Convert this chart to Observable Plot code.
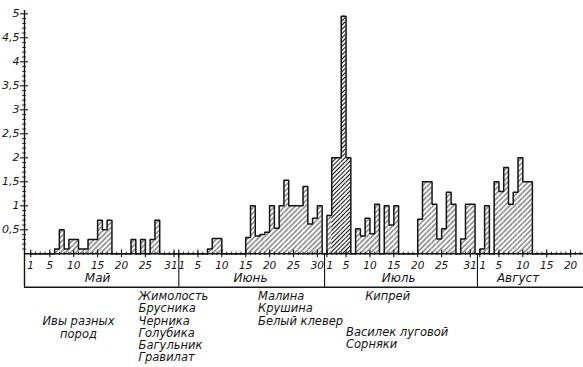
<!DOCTYPE html>
<html><head><meta charset="utf-8">
<script src="https://cdn.jsdelivr.net/npm/d3@7"></script>
<script src="https://cdn.jsdelivr.net/npm/@observablehq/plot@0.6"></script>
<style>
html,body{margin:0;padding:0;background:#fff;}
#chart{width:583px;height:367px;overflow:hidden;}
</style></head><body><div id="chart"></div>
<script>
// ---- data ----
const months = ["Май", "Июнь", "Июль", "Август"];
const may = [0,0,0,0,0, 0.1,0.5,0.1,0.3,0.3, 0.1,0.1,0.3,0.3,0.7, 0.5,0.7,0,0,0, 0,0.3,0,0.3,0, 0.3,0.7,0,0,0, 0];
const june = [0,0,0,0,0, 0,0.1,0.32,0.32,0, 0,0,0,0,0.34, 1.0,0.37,0.4,0.45,1.0, 0.53,1.0,1.53,1.0,1.0, 1.0,1.4,0.62,0.74,1.0];
const july = [0.8,2.0,2.0,4.95,2.0, 0,0.52,0.37,0.74,0.42, 1.03,0,1.0,0.6,1.0, 0,0,0,0,0.72, 1.5,1.5,1.03,0.31,0.52, 1.28,1.03,0,0.31,1.03, 1.03];
const august = [0.1,1.0,0,1.5,1.3, 1.8,1.03,1.28,2.0,1.5, 1.5,0,0,0,0, 0,0,0,0,0];
const monthDays = [31, 30, 31, 22];
const tickDays = [[1,5,10,15,20,25,31],[1,5,10,15,20,25,30],[1,5,10,15,20,25,31],[1,5,10,15,20]];
const monthLabelDay = [15, 16, 16, 9];
const yTicks = [0.5,1,1.5,2,2.5,3,3.5,4,4.5,5];
const yTickLabels = ["0,5","1","1,5","2","2,5","3","3,5","4","4,5","5"];
const plantTexts = ["Ивы разных\nпород", "Жимолость\nБрусника\nЧерника\nГолубика\nБагульник\nГравилат", "Малина\nКрушина\nБелый клевер", "Кипрей", "Василек луговой\nСорняки"];
const plantMonth = [0, 0, 1, 2, 2];
const plantDay = [11, 24, 18, 9, 5];
const darkMonth = 2, darkDays = [2,3,4,5];

// ---- layout ----
const series = [may, june, july, august];
const gaps = [0, 0, 1, 1];
const start = [];
{ let s = 0; for (let m = 0; m < 4; m++) { s += gaps[m]; start.push(s); s += (m < 3 ? [31,30,31][m] : 0); } }
const pos = (m, d) => start[m] + d - 1;
const x0 = -1.3, xEnd = 115.7;
const ink = "#141414";
const pxPerUnit = (253.3 - 13.3) / 5;
const boxDepth = -33.4 / pxPerUnit;

const bars = [];
series.forEach((arr, m) => arr.forEach((v, i) => {
  if (v > 0) bars.push({m, day: i + 1, x1: pos(m, i + 1), x2: pos(m, i + 1) + 1, v,
    dark: m === darkMonth && darkDays.includes(i + 1)});
}));
const lastIndex = pos(3, august.length);
const valAt = new Map(bars.map(b => [b.x1, b.v]));
const env = [];
for (let i = 0; i < lastIndex; i++) { const v = valAt.get(i) || 0; env.push({x: i, y: v}, {x: i + 1, y: v}); }

const dayTicks = [];
monthDays.forEach((n, m) => { for (let d = 1; d <= n; d++) dayTicks.push(pos(m, d)); });
const majorTicks = [];
tickDays.forEach((arr, m) => arr.forEach(d => majorTicks.push({x: pos(m, d), label: String(d),
  dx: (m > 0 && d === 1) ? 3 : (d === 31 && m === 0 ? -3 : 0)})));
const dividers = [start[1] - gaps[1] / 2, start[2] - gaps[2] / 2, start[3] - gaps[3] / 2];
const monthLabels = months.map((name, m) => ({x: pos(m, monthLabelDay[m]), name}));
const plantDy = [62.4, 37.4, 37.4, 37.4, 74.4];
const plantDx = [0, -2, -2, 0, 0];
const plantLH = [1.1, 1.07, 1.07, 1.07, 1.0];
const plants = plantTexts.map((t, k) => ({x: pos(plantMonth[k], plantDay[k]), t, dy: plantDy[k], dx: plantDx[k], lh: plantLH[k], anchor: k === 0 ? "middle" : "start"}));
const minorY = d3.range(1, 51).map(i => i / 10).filter(v => Math.abs(v * 2 - Math.round(v * 2)) > 1e-6);

const font = "DejaVu Sans";
const tickLabelMarks = [-3, 0, 3].map(dx => Plot.text(majorTicks.filter(t => t.dx === dx), {x: "x", y: 0, text: "label", dy: 11.5, dx, fontSize: 10.5, fontStyle: "italic", fontFamily: font, fill: ink}));
const plantMarks = plants.map(p => Plot.text([p], {x: "x", y: 0, text: "t", dy: p.dy, dx: p.dx, textAnchor: p.anchor, lineAnchor: "top", lineHeight: p.lh, fontSize: 11.5, fontStyle: "italic", fontFamily: font, fill: ink}));

const chart = Plot.plot({
  width: 583, height: 367,
  marginLeft: 24, marginRight: 0, marginTop: 13.3, marginBottom: 113.7,
  x: {domain: [x0, xEnd], axis: null},
  y: {domain: [0, 5], axis: null},
  style: {background: "#fff", color: ink},
  marks: [
    Plot.rectY(bars.filter(b => !b.dark), {x1: "x1", x2: "x2", y: "v", fill: "url(#hatch)", inset: 0}),
    Plot.rectY(bars.filter(b => b.dark), {x1: "x1", x2: "x2", y: "v", fill: "url(#hatchDark)", inset: 0}),
    Plot.line(env, {x: "x", y: "y", stroke: ink, strokeWidth: 1.5, strokeLinejoin: "miter"}),
    Plot.ruleY([0], {x1: x0, x2: xEnd, stroke: ink, strokeWidth: 1.4}),
    Plot.ruleY([boxDepth], {x1: x0, x2: xEnd, stroke: ink, strokeWidth: 1.4}),
    Plot.ruleX(dividers, {y1: 0, y2: boxDepth, stroke: ink, strokeWidth: 1.1}),
    Plot.ruleX([x0], {y1: boxDepth, y2: 5.07, stroke: ink, strokeWidth: 1.4}),
    Plot.ruleY(minorY, {x1: x0 - 0.4, x2: x0 + 0.4, stroke: ink, strokeWidth: 0.9}),
    Plot.ruleY(yTicks, {x1: x0 - 0.85, x2: x0 + 0.85, stroke: ink, strokeWidth: 1.1}),
    Plot.text(yTicks, {x: x0, y: d => d, text: (d, i) => yTickLabels[i], textAnchor: "end", dx: -5, fontSize: 11, fontStyle: "italic", fontFamily: font, fill: ink}),
    Plot.ruleX(dayTicks, {y1: -0.035, y2: 0.035, stroke: ink, strokeWidth: 0.9}),
    Plot.ruleX(majorTicks, {x: "x", y1: -0.08, y2: 0.08, stroke: ink, strokeWidth: 1.1}),
    ...tickLabelMarks,
    Plot.text(monthLabels, {x: "x", y: 0, text: "name", dy: 24.5, fontSize: 12, fontStyle: "italic", fontFamily: font, fill: ink}),
    ...plantMarks
  ]
});
const svg = d3.select(chart);
const defs = svg.insert("defs", ":first-child");
function hatch(id, w, sw) {
  const p = defs.append("pattern").attr("id", id).attr("patternUnits", "userSpaceOnUse")
    .attr("width", w).attr("height", w).attr("patternTransform", "rotate(45)");
  p.append("rect").attr("width", w).attr("height", w).attr("fill", "#fff");
  p.append("line").attr("x1", w / 2).attr("x2", w / 2).attr("y1", 0).attr("y2", w).attr("stroke", ink).attr("stroke-width", sw);
}
hatch("hatch", 3.6, 0.8);
hatch("hatchDark", 3.0, 1.1);
document.getElementById("chart").appendChild(chart);
</script></body></html>
